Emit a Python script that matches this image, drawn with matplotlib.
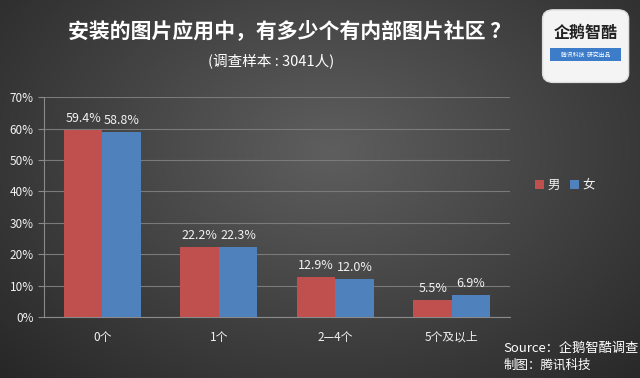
import numpy as np
import matplotlib.pyplot as plt
from matplotlib.patches import FancyBboxPatch, Rectangle

plt.rcParams['font.family'] = ['Noto Sans CJK SC', 'DejaVu Sans']

categories = ["0个", "1个", "2—4个", "5个及以上"]
male = [59.4, 22.2, 12.9, 5.5]
female = [58.8, 22.3, 12.0, 6.9]
yticks = [0, 10, 20, 30, 40, 50, 60, 70]

RED = "#C0504D"
BLUE = "#4F81BD"
TXT = "#f2f2f2"

fig = plt.figure(figsize=(6.4, 3.78), dpi=100)

# dark radial background
bg = fig.add_axes([0, 0, 1, 1], zorder=-10)
yy, xx = np.mgrid[0:378, 0:640]
r = np.sqrt(((xx - 330) / 420.0) ** 2 + ((yy - 150) / 300.0) ** 2)
shade = np.clip(0.37 - 0.2 * r, 0.13, 0.37)
bg.imshow(np.dstack([shade] * 3), aspect="auto", extent=[0, 1, 0, 1])
bg.axis("off")

ax = fig.add_axes([0.069, 0.161, 0.728, 0.582])
ax.patch.set_alpha(0)
x = np.arange(len(categories))
w = 0.33
b1 = ax.bar(x - w / 2, male, w, color=RED, label="男", zorder=3)
b2 = ax.bar(x + w / 2, female, w, color=BLUE, label="女", zorder=3)
for bars, vals in ((b1, male), (b2, female)):
    for rect, v in zip(bars, vals):
        ax.text(rect.get_x() + rect.get_width() / 2, v + 1.6, f"{v:.1f}%",
                ha="center", va="bottom", color=TXT, fontsize=9)

ax.set_xlim(-0.5, 3.5)
ax.set_ylim(0, 70)
ax.set_yticks(yticks)
ax.set_yticklabels([f"{t}%" for t in yticks], color=TXT, fontsize=8.5)
ax.set_xticks(x)
ax.set_xticklabels(categories, color=TXT, fontsize=8.5)
ax.tick_params(axis="x", length=0, pad=10)
ax.tick_params(axis="y", length=4, color="#8a8a8a", direction="out")
ax.grid(axis="y", color="#7a7a7a", linewidth=0.8, zorder=0)
for s in ("top", "right"):
    ax.spines[s].set_visible(False)
for s in ("left", "bottom"):
    ax.spines[s].set_color("#8a8a8a")

ax.legend(loc="center left", bbox_to_anchor=(1.03, 0.6), frameon=False,
          labelcolor=TXT, fontsize=9, ncol=2, handlelength=0.7, handleheight=0.7,
          handletextpad=0.3, columnspacing=0.8)

fig.text(0.453, 0.918, "安装的图片应用中，有多少个有内部图片社区 ？", ha="center", va="center",
         color="white", fontsize=15, fontweight="bold")
fig.text(0.424, 0.836, "(调查样本 : 3041人)", ha="center", va="center",
         color="white", fontsize=10.5)

fig.text(0.786, 0.079, "Source：企鹅智酷调查", ha="left", va="center",
         color="white", fontsize=9.5, style="italic")
fig.text(0.786, 0.033, "制图：腾讯科技", ha="left", va="center",
         color="white", fontsize=9, style="italic")

# logo box
logo = fig.add_axes([0.845, 0.778, 0.14, 0.2])
logo.set_xlim(0, 1)
logo.set_ylim(0, 1)
logo.axis("off")
logo.add_patch(FancyBboxPatch((0.02, 0.02), 0.96, 0.96, boxstyle="round,pad=0,rounding_size=0.12",
                              facecolor="#f4f4f4", edgecolor="#dddddd"))
logo.text(0.5, 0.67, "企鹅智酷", ha="center", va="center", color="#222222",
          fontsize=11.5, fontweight="bold")
logo.add_patch(Rectangle((0.1, 0.3), 0.8, 0.17, facecolor="#3d7cc9"))
logo.text(0.5, 0.385, "腾讯科技  研究出品", ha="center", va="center", color="white",
          fontsize=4.2, style="italic")

fig.savefig("out.png", dpi=100)
